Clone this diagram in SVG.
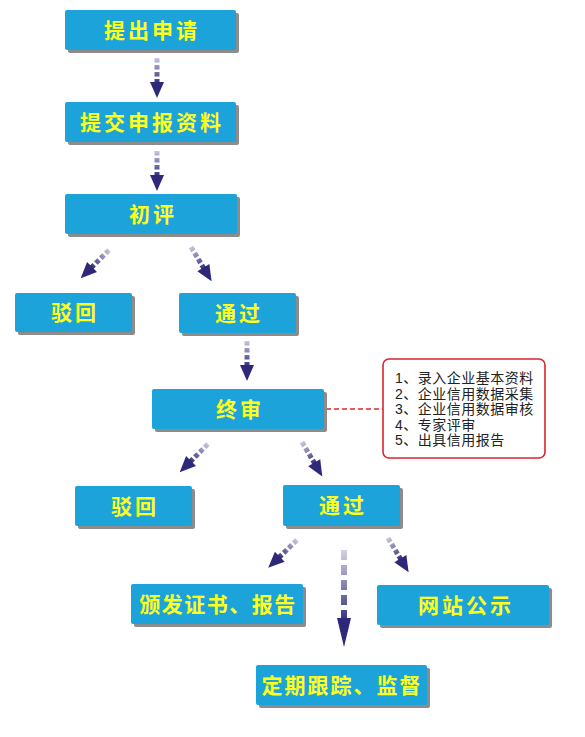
<svg xmlns="http://www.w3.org/2000/svg" width="585" height="737" viewBox="0 0 585 737">
<style>
.shadow{fill:#8c8c8c}
.box{fill:#1ba3da}
.lbl{font-family:"Noto Sans CJK SC","Noto Sans CJK TC",sans-serif;font-weight:bold;font-size:21px;fill:#ffff1e;text-anchor:middle;letter-spacing:3px}
.note{font-family:"Liberation Sans","Noto Sans CJK SC",sans-serif;font-size:14px;letter-spacing:0.5px;fill:#222}
.shaft{stroke:url(#gShort);stroke-width:5;stroke-dasharray:4.5 2.5;fill:none}
.head{fill:#2d2878}
</style>
<defs>
<linearGradient id="gShort" gradientUnits="userSpaceOnUse" x1="0" y1="0" x2="0" y2="26">
<stop offset="0" stop-color="#cac6de"/><stop offset="1" stop-color="#2d2878"/>
</linearGradient>
<linearGradient id="gLong" gradientUnits="userSpaceOnUse" x1="0" y1="550" x2="0" y2="625">
<stop offset="0" stop-color="#d4d1e4"/><stop offset="1" stop-color="#2d2878"/>
</linearGradient>
<g id="arr">
<line class="shaft" x1="0" y1="0" x2="0" y2="25"/>
<polygon class="head" points="-7,24 7,24 0,40"/>
</g>
</defs>
<rect width="585" height="737" fill="#ffffff"/>

<g id="connectors">
<use href="#arr" transform="translate(157,58)"/>
<use href="#arr" transform="translate(157,151)"/>
<use href="#arr" transform="translate(109,250) rotate(45)"/>
<use href="#arr" transform="translate(191,247) rotate(-31)"/>
<use href="#arr" transform="translate(247,341)"/>
<use href="#arr" transform="translate(208,444) rotate(45)"/>
<use href="#arr" transform="translate(302,442) rotate(-30.5)"/>
<use href="#arr" transform="translate(297,540) rotate(46)"/>
<use href="#arr" transform="translate(388,538) rotate(-31)"/>
<line x1="344" y1="550" x2="344" y2="619" stroke="url(#gLong)" stroke-width="6" stroke-dasharray="10 5" fill="none"/>
<polygon class="head" points="337,618 351,618 344,647"/>
<line x1="326" y1="409" x2="383" y2="409" stroke="#e0262b" stroke-width="1.5" stroke-dasharray="5 3"/>
</g>

<g id="n1"><rect class="shadow" x="68" y="13" width="171" height="40" rx="2"/><rect class="box" x="65" y="10" width="171" height="40" rx="2"/><text class="lbl" x="152" y="38">提出申请</text></g>
<g id="n2"><rect class="shadow" x="68" y="105" width="171" height="40" rx="2"/><rect class="box" x="65" y="102" width="171" height="40" rx="2"/><text class="lbl" x="152" y="130">提交申报资料</text></g>
<g id="n3"><rect class="shadow" x="68" y="197" width="172" height="40" rx="2"/><rect class="box" x="65" y="194" width="172" height="40" rx="2"/><text class="lbl" x="153" y="222">初评</text></g>
<g id="n4"><rect class="shadow" x="18" y="296" width="117" height="39" rx="2"/><rect class="box" x="15" y="293" width="117" height="39" rx="2"/><text class="lbl" x="75" y="320">驳回</text></g>
<g id="n5"><rect class="shadow" x="182" y="296" width="117" height="40" rx="2"/><rect class="box" x="179" y="293" width="117" height="40" rx="2"/><text class="lbl" x="239" y="321">通过</text></g>
<g id="n6"><rect class="shadow" x="155" y="392" width="172" height="40" rx="2"/><rect class="box" x="152" y="389" width="172" height="40" rx="2"/><text class="lbl" x="240" y="417">终审</text></g>
<g id="n7"><rect class="shadow" x="78" y="489" width="117" height="40" rx="2"/><rect class="box" x="75" y="486" width="117" height="40" rx="2"/><text class="lbl" x="135" y="514">驳回</text></g>
<g id="n8"><rect class="shadow" x="286" y="488" width="117" height="41" rx="2"/><rect class="box" x="283" y="485" width="117" height="41" rx="2"/><text class="lbl" x="343" y="513">通过</text></g>
<g id="n9"><rect class="shadow" x="134" y="587" width="172" height="40" rx="2"/><rect class="box" x="131" y="584" width="172" height="40" rx="2"/><text class="lbl" x="218" y="612" style="letter-spacing:1.5px">颁发证书、报告</text></g>
<g id="n10"><rect class="shadow" x="380" y="588" width="172" height="40" rx="2"/><rect class="box" x="377" y="585" width="172" height="40" rx="2"/><text class="lbl" x="466" y="613">网站公示</text></g>
<g id="n11"><rect class="shadow" x="259" y="668" width="171" height="40" rx="2"/><rect class="box" x="256" y="665" width="171" height="40" rx="2"/><text class="lbl" x="342" y="693" style="letter-spacing:2px">定期跟踪、监督</text></g>

<g id="note">
<rect x="383" y="359" width="162" height="99" rx="6" fill="#ffffff" stroke="#d8262d" stroke-width="1.6"/>
<text class="note" x="395" y="383">1、录入企业基本资料</text>
<text class="note" x="395" y="398.5">2、企业信用数据采集</text>
<text class="note" x="395" y="414">3、企业信用数据审核</text>
<text class="note" x="395" y="429.5">4、专家评审</text>
<text class="note" x="395" y="445">5、出具信用报告</text>
</g>
</svg>
